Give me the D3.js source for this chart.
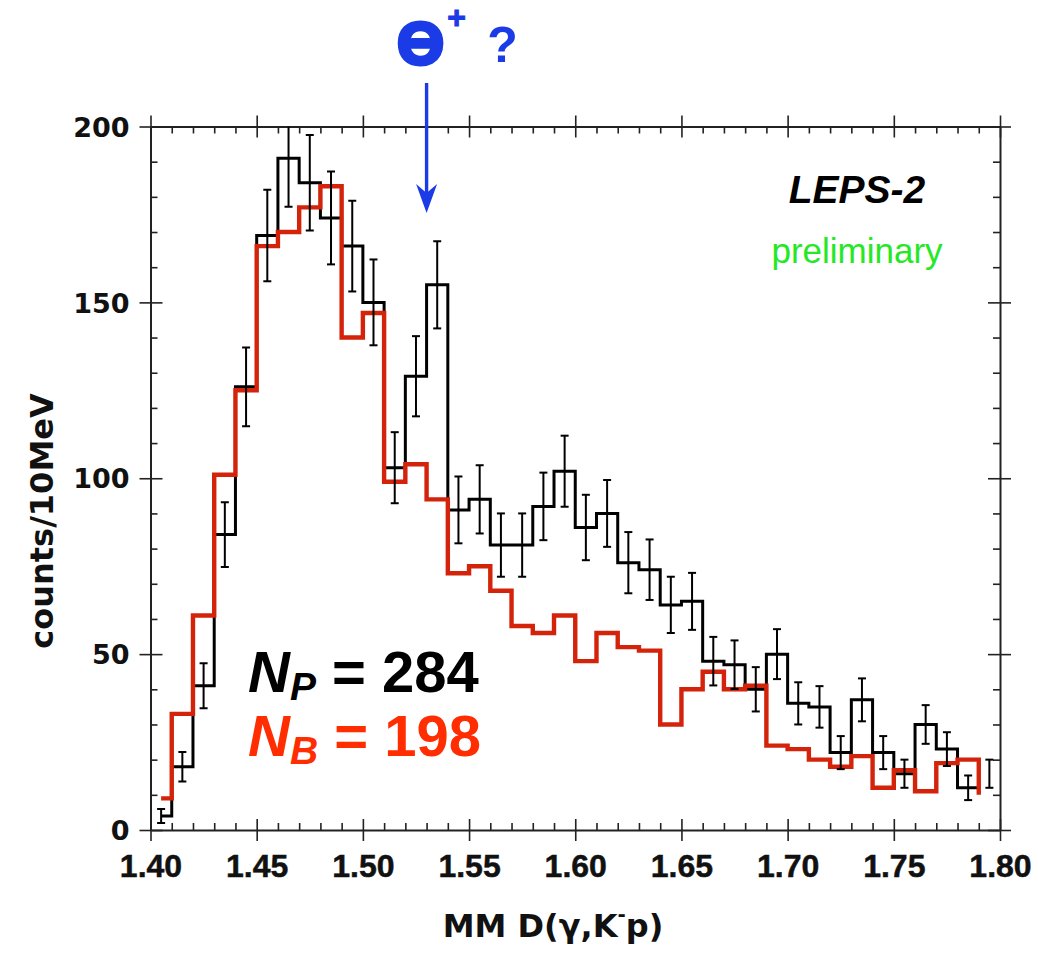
<!DOCTYPE html>
<html>
<head>
<meta charset="utf-8">
<script src="https://cdn.jsdelivr.net/npm/d3@7"></script>
<style>
  body { margin: 0; background: #fff; }
  svg { display: block; }
  text { font-family: "Liberation Sans", Arial, Helvetica, sans-serif; }
</style>
</head>
<body>
<div id="chart"></div>
<script>
// 10 MeV bins, lower edges
var binEdges = [1.40, 1.41, 1.42, 1.43, 1.44, 1.45, 1.46, 1.47, 1.48, 1.49,
                1.50, 1.51, 1.52, 1.53, 1.54, 1.55, 1.56, 1.57, 1.58, 1.59,
                1.60, 1.61, 1.62, 1.63, 1.64, 1.65, 1.66, 1.67, 1.68, 1.69,
                1.70, 1.71, 1.72, 1.73, 1.74, 1.75, 1.76, 1.77, 1.78, 1.79];

// data (black, with error bars)
var countsData = [4, 18, 41, 84, 126, 169, 191, 184, 174, 166,
                  150, 103, 129, 155, 91, 94, 81, 81, 92, 102,
                  86, 90, 76, 74, 64, 65, 48, 47, 40, 50,
                  36, 35, 22, 37, 22, 16, 30, 23, 12, 16];
var errData = [2, 4.2, 6.4, 9.2, 11.2, 13, 13.8, 13.6, 13.2, 12.9,
               12.2, 10.1, 11.4, 12.4, 9.5, 9.7, 9, 9, 9.6, 10.1,
               9.3, 9.5, 8.7, 8.6, 8, 8.1, 6.9, 6.9, 6.3, 7.1,
               6, 5.9, 4.7, 6.1, 4.7, 4, 5.5, 4.8, 3.5, 4];

// background (red)
var countsBkg = [9, 33, 61, 101, 125, 166, 170, 177, 183, 140,
                 147, 99, 104, 94, 73, 75, 68, 58, 56, 61,
                 48, 56, 52, 51, 30, 40, 45, 40, 41, 24,
                 23, 20, 18, 21, 12, 17, 11, 19, 20, 10];

var xTickValues = [1.40, 1.45, 1.50, 1.55, 1.60, 1.65, 1.70, 1.75, 1.80];
var xTickLabels = ["1.40", "1.45", "1.50", "1.55", "1.60", "1.65", "1.70", "1.75", "1.80"];
var yTickValues = [0, 50, 100, 150, 200];
var yTickLabels = ["0", "50", "100", "150", "200"];

var histStart = 1.405;
var thetaMass = 1.53;

var W = 1038, H = 957;
var plot = {left: 150.5, right: 1000, top: 126.5, bottom: 830};

var svg = d3.select("#chart").append("svg").attr("width", W).attr("height", H);

var x = d3.scaleLinear().domain([1.40, 1.80]).range([plot.left, plot.right]);
var y = d3.scaleLinear().domain([0, 200]).range([plot.bottom, plot.top]);

svg.append("clipPath").attr("id", "clip").append("rect")
  .attr("x", plot.left).attr("y", plot.top)
  .attr("width", plot.right - plot.left).attr("height", plot.bottom - plot.top);

// ---- axes ----
var xMinor = d3.range(1.40, 1.8001, 0.01).filter(function(v) {
  return Math.abs(Math.round(v * 20) - v * 20) > 1e-6;
});
var yMinor = d3.range(0, 201, 10).filter(function(v) { return v % 50 !== 0; });
var axisColor = "#222";

function styleAxis(g) {
  g.select(".domain").attr("stroke", axisColor).attr("stroke-width", 2);
  g.selectAll(".tick line").attr("stroke", axisColor).attr("stroke-width", 1.6);
}

// bottom
var gBottom = svg.append("g").attr("transform", "translate(0," + plot.bottom + ")")
  .call(d3.axisBottom(x).tickValues(xTickValues).tickSizeOuter(0)
    .tickFormat(function(d, i) { return xTickLabels[i]; }));
gBottom.selectAll(".tick line").attr("y1", -11).attr("y2", 11);
gBottom.selectAll(".tick text").attr("y", 47).attr("dy", 0)
  .attr("font-size", 32).attr("font-weight", "bold").attr("fill", "#111")
  .attr("stroke", "#111").attr("stroke-width", 0.5)
  .style("font-family", "'Liberation Sans', Arial, sans-serif");
svg.append("g").attr("transform", "translate(0," + plot.bottom + ")")
  .call(d3.axisBottom(x).tickValues(xMinor).tickSize(-7).tickFormat(""))
  .call(function(g) { g.select(".domain").remove(); })
  .call(styleAxis);
styleAxis(gBottom);

// top
var gTop = svg.append("g").attr("transform", "translate(0," + plot.top + ")")
  .call(d3.axisTop(x).tickValues(xTickValues).tickSizeOuter(0).tickFormat(""));
gTop.selectAll(".tick line").attr("y1", -11).attr("y2", 11);
svg.append("g").attr("transform", "translate(0," + plot.top + ")")
  .call(d3.axisTop(x).tickValues(xMinor).tickSize(-7).tickFormat(""))
  .call(function(g) { g.select(".domain").remove(); })
  .call(styleAxis);
styleAxis(gTop);

// left
var gLeft = svg.append("g").attr("transform", "translate(" + plot.left + ",0)")
  .call(d3.axisLeft(y).tickValues(yTickValues).tickSizeOuter(0)
    .tickFormat(function(d, i) { return yTickLabels[i]; }));
gLeft.selectAll(".tick line").attr("x1", -11).attr("x2", 12);
gLeft.selectAll(".tick text").attr("x", -21).attr("dy", "0.36em")
  .attr("font-size", 27).attr("font-weight", "bold").attr("fill", "#111")
  .style("font-family", "'DejaVu Sans', sans-serif");
svg.append("g").attr("transform", "translate(" + plot.left + ",0)")
  .call(d3.axisLeft(y).tickValues(yMinor).tickSize(-7).tickFormat(""))
  .call(function(g) { g.select(".domain").remove(); })
  .call(styleAxis);
styleAxis(gLeft);

// right
var gRight = svg.append("g").attr("transform", "translate(" + plot.right + ",0)")
  .call(d3.axisRight(y).tickValues(yTickValues).tickSizeOuter(0).tickFormat(""));
gRight.selectAll(".tick line").attr("x1", -12).attr("x2", 11);
svg.append("g").attr("transform", "translate(" + plot.right + ",0)")
  .call(d3.axisRight(y).tickValues(yMinor).tickSize(-7).tickFormat(""))
  .call(function(g) { g.select(".domain").remove(); })
  .call(styleAxis);
styleAxis(gRight);

// ---- histograms ----
var step = d3.line()
  .x(function(d) { return x(d[0]); })
  .y(function(d) { return y(d[1]); })
  .curve(d3.curveStepAfter);

var dataPts = binEdges.slice(0, 39).map(function(e, i) {
  return [i === 0 ? histStart : e, countsData[i]];
});
dataPts.push([binEdges[39], countsData[38]]);

var bkgPts = binEdges.map(function(e, i) {
  return [i === 0 ? histStart : e, countsBkg[i]];
});

var plotG = svg.append("g").attr("clip-path", "url(#clip)");

plotG.append("path").datum(dataPts)
  .attr("d", step).attr("fill", "none")
  .attr("stroke", "#000").attr("stroke-width", 3);

plotG.append("path").datum(bkgPts)
  .attr("d", step).attr("fill", "none")
  .attr("stroke", "#d4230b").attr("stroke-width", 4.4)
  .attr("stroke-linejoin", "miter");

// error bars
var eb = plotG.selectAll("g.eb").data(binEdges).enter().append("g").attr("class", "eb");
var cx = function(d) { return x(d + 0.005); };
var cap = 4;
eb.append("line")
  .attr("x1", cx).attr("x2", cx)
  .attr("y1", function(d, i) { return y(countsData[i] - errData[i]); })
  .attr("y2", function(d, i) { return y(countsData[i] + errData[i]); });
eb.append("line")
  .attr("x1", function(d) { return cx(d) - cap; }).attr("x2", function(d) { return cx(d) + cap; })
  .attr("y1", function(d, i) { return y(countsData[i] - errData[i]); })
  .attr("y2", function(d, i) { return y(countsData[i] - errData[i]); });
eb.append("line")
  .attr("x1", function(d) { return cx(d) - cap; }).attr("x2", function(d) { return cx(d) + cap; })
  .attr("y1", function(d, i) { return y(countsData[i] + errData[i]); })
  .attr("y2", function(d, i) { return y(countsData[i] + errData[i]); });
eb.selectAll("line").attr("stroke", "#000").attr("stroke-width", 2);

// ---- axis titles ----
svg.append("text")
  .attr("transform", "translate(53,521) rotate(-90)")
  .attr("text-anchor", "middle")
  .attr("font-size", 32).attr("font-weight", "bold").attr("fill", "#111")
  .style("font-family", "'DejaVu Sans', sans-serif")
  .text("counts/10MeV");

var xt = svg.append("text")
  .attr("x", 553).attr("y", 937)
  .attr("text-anchor", "middle")
  .attr("font-size", 32).attr("font-weight", "bold").attr("fill", "#111")
  .style("font-family", "'DejaVu Sans', sans-serif");
xt.append("tspan").text("MM D(γ,K");
xt.append("tspan").attr("font-size", 20).attr("dy", -16).text("-");
xt.append("tspan").attr("dy", 16).text("p)");

// ---- annotations ----
svg.append("text").attr("x", 857).attr("y", 203)
  .attr("text-anchor", "middle")
  .attr("font-size", 39).attr("font-weight", "bold").attr("font-style", "italic")
  .attr("fill", "#000").text("LEPS-2");

svg.append("text").attr("x", 857).attr("y", 263)
  .attr("text-anchor", "middle")
  .attr("font-size", 35).attr("fill", "#25e825").text("preliminary");

function nLabel(yBase, sub, value, color) {
  var t = svg.append("text").attr("x", 248).attr("y", yBase)
    .attr("font-weight", "bold").attr("fill", color).attr("font-size", 58);
  t.append("tspan").attr("font-style", "italic").text("N");
  t.append("tspan").attr("font-style", "italic").attr("font-size", 39).attr("dy", 8).text(sub);
  t.append("tspan").attr("dy", -8).text(" = " + value);
}
nLabel(692, "P", 284, "#000");
nLabel(756, "B", 198, "#ff2d00");

// Theta+ arrow
var blue = "#1a3be6";
var ax = x(thetaMass);
var tipY = 213;
svg.append("line")
  .attr("x1", ax).attr("x2", ax).attr("y1", 83).attr("y2", tipY - 14)
  .attr("stroke", blue).attr("stroke-width", 3.4);
svg.append("path")
  .attr("d", "M" + ax + "," + tipY + " L" + (ax - 10.5) + "," + (tipY - 29) +
             " L" + ax + "," + (tipY - 20) + " L" + (ax + 10.5) + "," + (tipY - 29) + " Z")
  .attr("fill", blue);

svg.append("text").attr("x", ax - 6).attr("y", 64)
  .attr("text-anchor", "middle")
  .attr("font-size", 60).attr("font-weight", "bold").attr("fill", blue)
  .attr("stroke", blue).attr("stroke-width", 4).attr("stroke-linejoin", "round")
  .text("Θ");
svg.append("text").attr("x", ax + 30).attr("y", 28)
  .attr("text-anchor", "middle")
  .attr("font-size", 32).attr("font-weight", "bold").attr("fill", blue)
  .attr("stroke", blue).attr("stroke-width", 1).text("+");
svg.append("text").attr("x", ax + 76).attr("y", 62)
  .attr("text-anchor", "middle")
  .attr("font-size", 50).attr("font-weight", "bold").attr("fill", blue).text("?");
</script>
</body>
</html>
